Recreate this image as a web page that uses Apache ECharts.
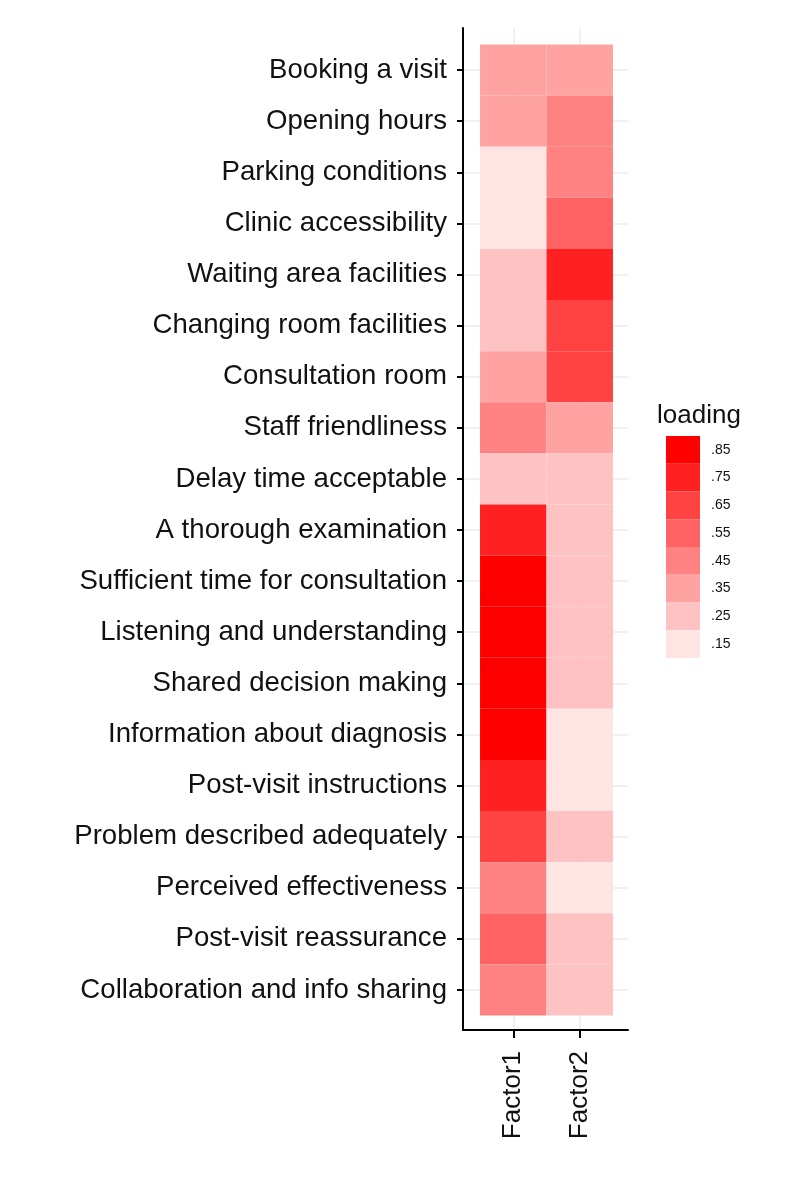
<!DOCTYPE html>
<html>
<head>
<meta charset="utf-8">
<script src="https://cdn.jsdelivr.net/npm/echarts@6/dist/echarts.min.js"></script>
<style>
html,body{margin:0;padding:0;background:#fff;}
#chart{width:800px;height:1200px;}
</style>
</head>
<body>
<div id="chart"></div>
<script>
const items = [
  'Booking a visit','Opening hours','Parking conditions','Clinic accessibility',
  'Waiting area facilities','Changing room facilities','Consultation room',
  'Staff friendliness','Delay time acceptable','A thorough examination',
  'Sufficient time for consultation','Listening and understanding',
  'Shared decision making','Information about diagnosis','Post-visit instructions',
  'Problem described adequately','Perceived effectiveness','Post-visit reassurance',
  'Collaboration and info sharing'
];
const factors = ['Factor1', 'Factor2'];
const factor1 = [0.35,0.35,0.15,0.15,0.25,0.25,0.35,0.45,0.25,0.75,0.85,0.85,0.85,0.85,0.75,0.65,0.45,0.55,0.45];
const factor2 = [0.35,0.45,0.45,0.55,0.75,0.65,0.65,0.35,0.25,0.25,0.25,0.25,0.25,0.15,0.15,0.25,0.15,0.25,0.25];
const legendLabels = ['.85','.75','.65','.55','.45','.35','.25','.15'];
const legendCenters = [0.85,0.75,0.65,0.55,0.45,0.35,0.25,0.15];
const legendColors = ['#FF0000','#FF2121','#FF4343','#FF6262','#FF8282','#FFA2A2','#FFC2C2','#FFE4E4'];

const data = [];
items.forEach((name, i) => {
  data.push([0, i, factor1[i]]);
  data.push([1, i, factor2[i]]);
});

const pieces = legendLabels.map((lab, k) => ({
  min: legendCenters[k] - 0.05,
  max: legendCenters[k] + 0.05,
  label: lab,
  color: legendColors[k]
}));

const rowIdx = items.map((_, i) => i);
const colIdx = factors.map((_, i) => i);
const labelFont = 'Liberation Sans, Arial, sans-serif';

const chart = echarts.init(document.getElementById('chart'), null, {renderer: 'canvas'});
chart.setOption({
  animation: false,
  backgroundColor: '#ffffff',
  title: {
    text: 'loading',
    left: 652,
    top: 398,
    textStyle: {fontSize: 26, fontWeight: 'normal', color: '#111', fontFamily: labelFont}
  },
  grid: {left: 463, top: 28, width: 165, height: 1002, containLabel: false},
  xAxis: {
    type: 'value',
    min: -0.756,
    max: 1.726,
    axisLine: {show: true, onZero: false, lineStyle: {color: '#000', width: 2}},
    axisTick: {show: true, customValues: colIdx, length: 8, lineStyle: {color: '#000', width: 2}},
    axisLabel: {
      customValues: colIdx,
      formatter: v => factors[Math.round(v)],
      rotate: 90,
      margin: 21,
      fontSize: 26,
      color: '#111',
      fontFamily: labelFont
    },
    splitLine: {show: true, lineStyle: {color: '#EDEDED', width: 1.5}}
  },
  yAxis: {
    type: 'value',
    inverse: true,
    min: -0.823,
    max: 18.784,
    axisLine: {show: true, onZero: false, lineStyle: {color: '#000', width: 2}},
    axisTick: {show: true, customValues: rowIdx, length: 6, lineStyle: {color: '#000', width: 2}},
    axisLabel: {
      customValues: rowIdx,
      formatter: v => items[Math.round(v)],
      margin: 16,
      padding: [4, 0, 0, 0],
      fontSize: 27.6,
      color: '#111',
      fontFamily: labelFont
    },
    splitLine: {show: true, lineStyle: {color: '#EDEDED', width: 1.5}}
  },
  visualMap: {
    type: 'piecewise',
    dimension: 2,
    seriesIndex: 0,
    pieces: pieces,
    orient: 'vertical',
    align: 'left',
    left: 666,
    top: 436,
    padding: 0,
    itemWidth: 34,
    itemHeight: 27.75,
    itemGap: 0,
    itemSymbol: 'rect',
    textGap: 11,
    showLabel: true,
    textStyle: {fontSize: 14, color: '#111', fontFamily: labelFont, padding: [5, 0, 0, 0]},
    hoverLink: false,
    selectedMode: false
  },
  series: [{
    type: 'custom',
    coordinateSystem: 'cartesian2d',
    encode: {x: 0, y: 1},
    data: data,
    renderItem: function (params, api) {
      const x = api.value(0), y = api.value(1);
      const p0 = api.coord([x - 0.5, y - 0.5]);
      const p1 = api.coord([x + 0.5, y + 0.5]);
      return {
        type: 'rect',
        shape: {
          x: Math.min(p0[0], p1[0]),
          y: Math.min(p0[1], p1[1]),
          width: Math.abs(p1[0] - p0[0]),
          height: Math.abs(p1[1] - p0[1])
        },
        style: {fill: api.visual('color')}
      };
    }
  }]
});
</script>
</body>
</html>
